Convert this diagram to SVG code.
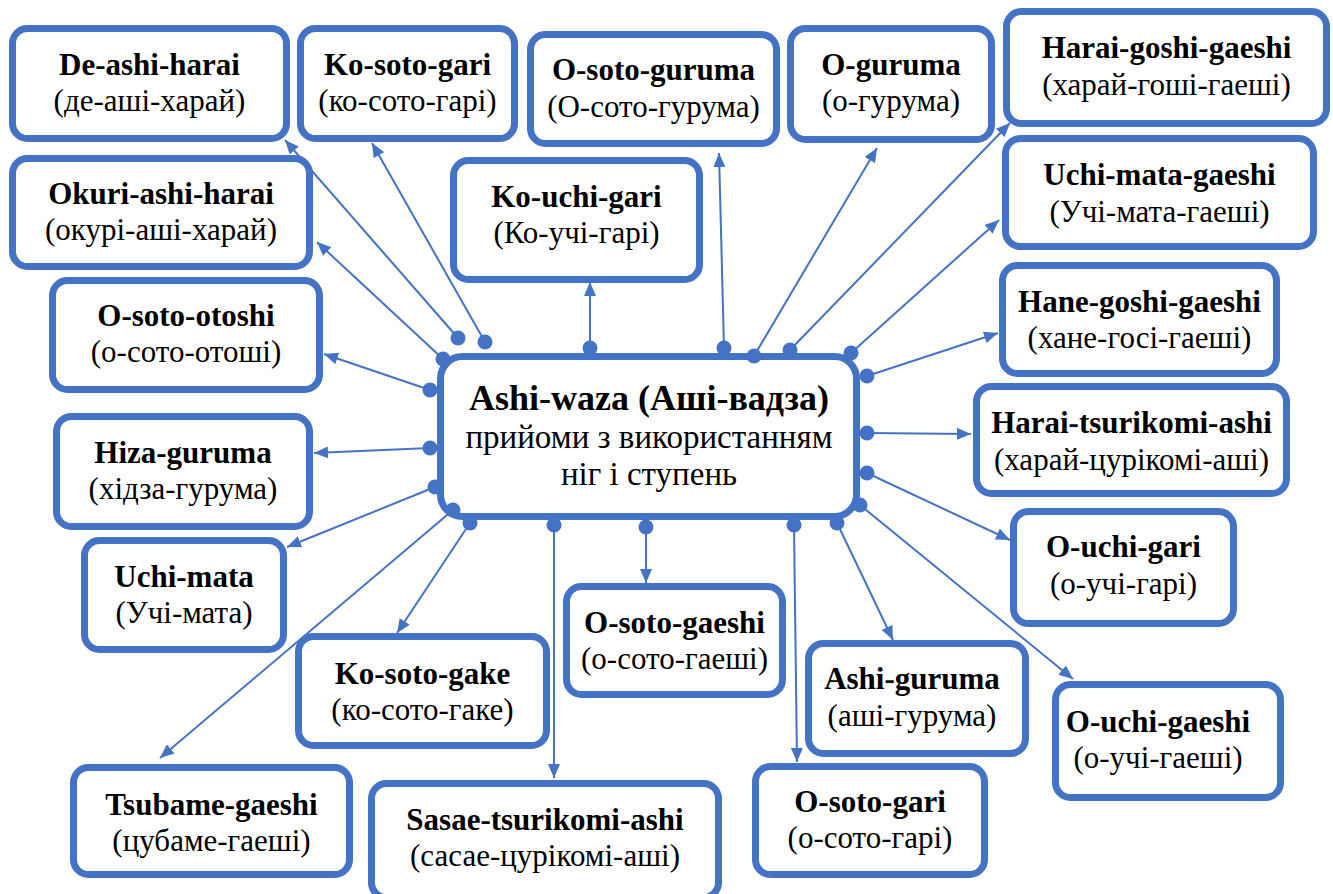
<svg xmlns="http://www.w3.org/2000/svg" width="1333" height="894" viewBox="0 0 1333 894">
<style>
.box{fill:#fff;stroke:#4472C4;stroke-width:7}
.c{stroke:#4472C4;stroke-width:2;fill:none;marker-start:url(#dot);marker-end:url(#arr)}
</style>
<defs>
<marker id="arr" viewBox="0 0 14 12" refX="14" refY="6" markerWidth="14" markerHeight="12" markerUnits="userSpaceOnUse" orient="auto"><path d="M0,0 L14,6 L0,12 z" fill="#4472C4"/></marker>
<marker id="dot" viewBox="0 0 16 16" refX="8" refY="8" markerWidth="16" markerHeight="16" markerUnits="userSpaceOnUse"><circle cx="8" cy="8" r="7.5" fill="#4472C4"/></marker>
</defs>
<rect width="1333" height="894" fill="#fff"/>
<g font-family="Liberation Serif, Times New Roman, serif" text-anchor="middle" fill="#000">
<g id="center"><rect class="box" x="440.5" y="356.5" width="416" height="160" rx="22"/>
<text font-weight="bold" font-size="36" x="649" y="410">Ashi-waza (Аші-вадза)</text>
<text font-size="33" x="649" y="448">прийоми з використанням</text>
<text font-size="33" x="649" y="485">ніг і ступень</text></g>
<g font-size="31">
<g id="de-ashi-harai"><rect class="box" x="12.5" y="28.5" width="274" height="110" rx="15"/><text font-weight="bold" x="149.5" y="75">De-ashi-harai</text><text x="149.5" y="111">(де-аші-харай)</text></g>
<g id="ko-soto-gari"><rect class="box" x="300.5" y="28.5" width="214" height="110" rx="15"/><text font-weight="bold" x="407.5" y="75">Ko-soto-gari</text><text x="407.5" y="111">(ко-сото-гарі)</text></g>
<g id="okuri-ashi-harai"><rect class="box" x="12.5" y="158.5" width="297" height="108" rx="15"/><text font-weight="bold" x="161" y="204">Okuri-ashi-harai</text><text x="161" y="240">(окурі-аші-харай)</text></g>
<g id="o-soto-otoshi"><rect class="box" x="52.5" y="280.5" width="267" height="109" rx="15"/><text font-weight="bold" x="186" y="326">O-soto-otoshi</text><text x="186" y="362">(о-сото-отоші)</text></g>
<g id="hiza-guruma"><rect class="box" x="56.5" y="416.5" width="253" height="110" rx="15"/><text font-weight="bold" x="183" y="463">Hiza-guruma</text><text x="183" y="499">(хідза-гурума)</text></g>
<g id="uchi-mata"><rect class="box" x="84.5" y="540.5" width="199" height="109" rx="15"/><text font-weight="bold" x="184" y="587">Uchi-mata</text><text x="184" y="623">(Учі-мата)</text></g>
<g id="tsubame-gaeshi"><rect class="box" x="73.5" y="767.5" width="276" height="107" rx="15"/><text font-weight="bold" x="211.5" y="815">Tsubame-gaeshi</text><text x="211.5" y="851">(цубаме-гаеші)</text></g>
<g id="ko-soto-gake"><rect class="box" x="298.5" y="636.5" width="248" height="109" rx="15"/><text font-weight="bold" x="422.5" y="684">Ko-soto-gake</text><text x="422.5" y="720">(ко-сото-гаке)</text></g>
<g id="sasae-tsurikomi-ashi"><rect class="box" x="371.5" y="783.5" width="347" height="114" rx="15"/><text font-weight="bold" x="545" y="830">Sasae-tsurikomi-ashi</text><text x="545" y="866">(сасае-цурікомі-аші)</text></g>
<g id="o-soto-gaeshi"><rect class="box" x="566.5" y="586.5" width="216" height="108" rx="15"/><text font-weight="bold" x="674.5" y="633">O-soto-gaeshi</text><text x="674.5" y="669">(о-сото-гаеші)</text></g>
<g id="ashi-guruma"><rect class="box" x="808.5" y="643.5" width="217" height="110" rx="15"/><text font-weight="bold" x="912" y="689">Ashi-guruma</text><text x="912" y="726">(аші-гурума)</text></g>
<g id="o-soto-gari"><rect class="box" x="755.5" y="766.5" width="229" height="108" rx="15"/><text font-weight="bold" x="870" y="812">O-soto-gari</text><text x="870" y="848">(о-сото-гарі)</text></g>
<g id="o-uchi-gaeshi"><rect class="box" x="1055.5" y="684.5" width="225" height="113" rx="15"/><text font-weight="bold" x="1158" y="732">O-uchi-gaeshi</text><text x="1158" y="768">(о-учі-гаеші)</text></g>
<g id="o-uchi-gari"><rect class="box" x="1013.5" y="511.5" width="220" height="112" rx="15"/><text font-weight="bold" x="1123.5" y="557">O-uchi-gari</text><text x="1123.5" y="594">(о-учі-гарі)</text></g>
<g id="harai-tsurikomi-ashi"><rect class="box" x="976.5" y="386.5" width="310" height="107" rx="15"/><text font-weight="bold" x="1131.5" y="433">Harai-tsurikomi-ashi</text><text x="1131.5" y="470">(харай-цурікомі-аші)</text></g>
<g id="hane-goshi-gaeshi"><rect class="box" x="1002.5" y="265.5" width="274" height="108" rx="15"/><text font-weight="bold" x="1139.5" y="312">Hane-goshi-gaeshi</text><text x="1139.5" y="348">(хане-госі-гаеші)</text></g>
<g id="uchi-mata-gaeshi"><rect class="box" x="1005.5" y="138.5" width="308" height="108" rx="15"/><text font-weight="bold" x="1159.5" y="185">Uchi-mata-gaeshi</text><text x="1159.5" y="222">(Учі-мата-гаеші)</text></g>
<g id="harai-goshi-gaeshi"><rect class="box" x="1006.5" y="11.5" width="320" height="112" rx="15"/><text font-weight="bold" x="1166.5" y="58">Harai-goshi-gaeshi</text><text x="1166.5" y="95">(харай-гоші-гаеші)</text></g>
<g id="o-guruma"><rect class="box" x="790.5" y="28.5" width="201" height="111" rx="15"/><text font-weight="bold" x="891" y="75">O-guruma</text><text x="891" y="111">(о-гурума)</text></g>
<g id="o-soto-guruma"><rect class="box" x="530.5" y="34.5" width="246" height="109" rx="15"/><text font-weight="bold" x="653.5" y="80">O-soto-guruma</text><text x="653.5" y="117">(О-сото-гурума)</text></g>
<g id="ko-uchi-gari"><rect class="box" x="453.5" y="160.5" width="246" height="119" rx="15"/><text font-weight="bold" x="576.5" y="207">Ko-uchi-gari</text><text x="576.5" y="243">(Ко-учі-гарі)</text></g>
</g>
</g>
<g id="connectors">
<path class="c" d="M458,338 L285,140"/>
<path class="c" d="M485,342 L372,143"/>
<path class="c" d="M443,359 L317,242"/>
<path class="c" d="M430,390 L324,354"/>
<path class="c" d="M430,448 L314,453"/>
<path class="c" d="M435,487 L287,547"/>
<path class="c" d="M453,510 L160,758"/>
<path class="c" d="M470,523 L397,633"/>
<path class="c" d="M554,525 L554,778"/>
<path class="c" d="M646,527 L646,583"/>
<path class="c" d="M794,525 L797,762"/>
<path class="c" d="M837,523 L893,640"/>
<path class="c" d="M860,505 L1073,679"/>
<path class="c" d="M867,473 L1010,540"/>
<path class="c" d="M867,433 L971,434"/>
<path class="c" d="M867,376 L998,333"/>
<path class="c" d="M851,353 L999,220"/>
<path class="c" d="M790,350 L1010,123"/>
<path class="c" d="M754,356 L877,148"/>
<path class="c" d="M724,348 L719,153"/>
<path class="c" d="M590,348 L590,282"/>
</g>
</svg>
